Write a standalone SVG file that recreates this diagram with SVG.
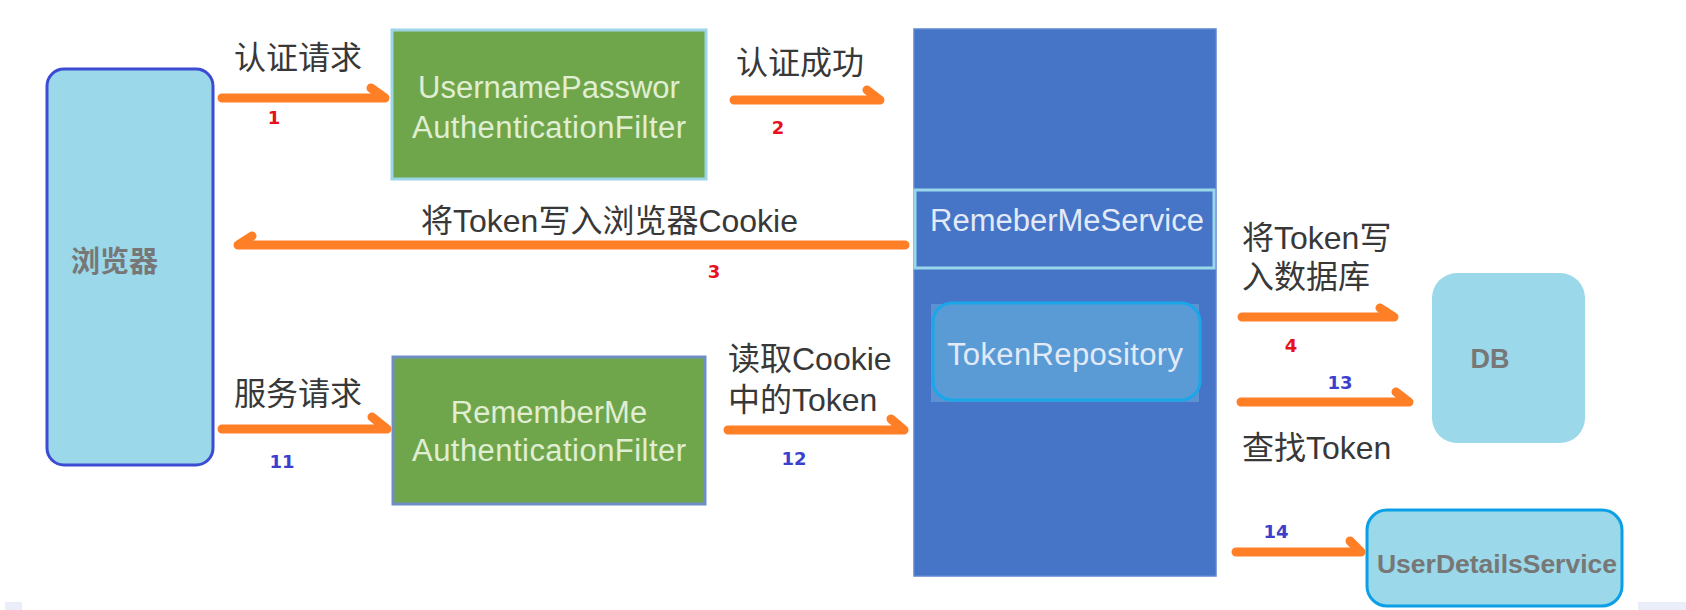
<svg xmlns="http://www.w3.org/2000/svg" width="1686" height="610" viewBox="0 0 1686 610">
<style>
.lbl{font-family:"Liberation Sans","Noto Sans CJK SC",sans-serif;font-size:32px;fill:#383838}
.box{font-family:"Liberation Sans","Noto Sans CJK SC",sans-serif;font-size:31px;text-anchor:middle}
.gtxt{fill:#e0eed3}
.btxt{fill:#e2eaf7}
.bold{font-family:"Liberation Sans","Noto Sans CJK SC",sans-serif;font-weight:bold;fill:#777777}
.num{font-family:"DejaVu Sans",sans-serif;font-weight:bold;font-size:18px;text-anchor:middle}
.red{fill:#e8101c}
.blue{fill:#3b3fcc}
.conn{fill:none;stroke:#ff7f27;stroke-width:9;stroke-linecap:round;stroke-linejoin:round}
</style>
<rect width="1686" height="610" fill="#ffffff"/>
<rect x="5" y="602" width="17" height="8" fill="#e9eef8"/>
<rect x="1638" y="602" width="48" height="8" fill="#e9eef8"/>

<g id="browser">
<rect x="47" y="69" width="166" height="396" rx="17" fill="#9bd8e9" stroke="#3b4bd4" stroke-width="3"/>
<text x="71" y="272" class="bold" font-size="29">浏览器</text>
</g>

<g id="upaf">
<rect x="392" y="30" width="314" height="149" fill="#70a64b" stroke="#9dd5e8" stroke-width="3"/>
<text x="549" y="98" class="box gtxt">UsernamePasswor</text>
<text x="549" y="138" class="box gtxt" textLength="274">AuthenticationFilter</text>
</g>

<g id="rmaf">
<rect x="393" y="357" width="312" height="147" fill="#70a64b" stroke="#6f8fc4" stroke-width="3"/>
<text x="549" y="423" class="box gtxt">RememberMe</text>
<text x="549" y="461" class="box gtxt" textLength="274">AuthenticationFilter</text>
</g>

<g id="rememberMeContainer">
<rect x="914" y="29" width="302" height="547" fill="#4674c6" stroke="#5d86cf" stroke-width="1.5"/>
</g>

<g id="rememberMeService">
<rect x="915" y="190" width="299" height="78" fill="#4674c6" stroke="#9ad7ea" stroke-width="3"/>
<text x="1067" y="231" class="box btxt">RemeberMeService</text>
</g>

<g id="tokenRepository">
<rect x="931" y="304" width="268" height="98" fill="#5a92d2"/>
<rect x="933" y="303" width="267" height="97" rx="19" fill="#5b9bd5" stroke="#1aa7ea" stroke-width="3"/>
<text x="1065" y="365" class="box btxt" textLength="236">TokenRepository</text>
</g>

<g id="db">
<rect x="1432" y="273" width="153" height="170" rx="25" fill="#9bd8e9"/>
<text x="1490" y="368" class="bold" font-size="27" text-anchor="middle">DB</text>
</g>

<g id="userDetailsService">
<rect x="1367" y="510" width="255" height="96" rx="20" fill="#9bd8e9" stroke="#0ba0e6" stroke-width="3"/>
<text x="1497" y="573" class="bold" font-size="26.5" text-anchor="middle" textLength="240">UserDetailsService</text>
</g>

<g id="connectors">
<path class="conn" d="M222,98 H385 L371,88"/>
<path class="conn" d="M734,100 H880 L867,90"/>
<path class="conn" d="M905,245 H238 L252,236"/>
<path class="conn" d="M1242,317 H1394 L1380,308"/>
<path class="conn" d="M1241,402 H1409 L1396,392"/>
<path class="conn" d="M222,429 H387 L372,417"/>
<path class="conn" d="M728,430 H904 L891,419"/>
<path class="conn" d="M1236,552 H1361 L1350,541"/>

<text x="234" y="69" class="lbl">认证请求</text>
<text x="736" y="74" class="lbl">认证成功</text>
<text x="421" y="232" class="lbl">将Token写入浏览器Cookie</text>
<text x="1242" y="249" class="lbl">将Token写</text>
<text x="1242" y="288" class="lbl">入数据库</text>
<text x="1242" y="459" class="lbl">查找Token</text>
<text x="234" y="405" class="lbl">服务请求</text>
<text x="728" y="370" class="lbl">读取Cookie</text>
<text x="728" y="411" class="lbl">中的Token</text>

<text x="274" y="124" class="num red">1</text>
<text x="778" y="134" class="num red">2</text>
<text x="714" y="278" class="num red">3</text>
<text x="1291" y="352" class="num red">4</text>
<text x="282" y="468" class="num blue">11</text>
<text x="794" y="465" class="num blue">12</text>
<text x="1340" y="389" class="num blue">13</text>
<text x="1276" y="538" class="num blue">14</text>
</g>
</svg>
